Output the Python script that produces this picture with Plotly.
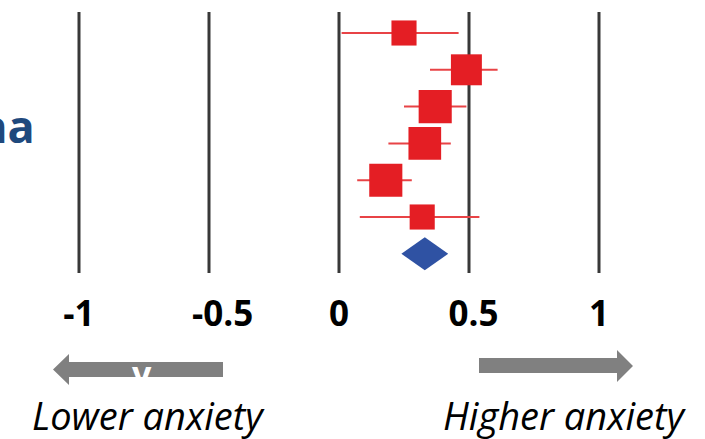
import numpy as np
import plotly.graph_objects as go

# Study-level effect sizes with 95% confidence limits
studies = ["Study 1", "Study 2", "Study 3", "Study 4", "Study 5", "Study 6"]
estimate = [0.25, 0.49, 0.37, 0.33, 0.18, 0.32]
ci_low = [0.01, 0.35, 0.25, 0.19, 0.07, 0.08]
ci_high = [0.46, 0.61, 0.49, 0.43, 0.28, 0.54]
weight = [11.5, 17.5, 20.0, 19.5, 20.0, 11.5]

# Pooled estimate
pooled_est = 0.33
pooled_low = 0.24
pooled_high = 0.42

tick_values = [-1, -0.5, 0, 0.5, 1]
tick_labels = ["-1", "\u00a0\u00a0\u00a0-0.5", "0", "\u00a00.5", "1"]

W, H = 705, 439
PLOT_H = 278  # pixel height of the plotting band at the top

FONT = "Open Sans"
RED = "#e41e24"
RED_LINE = "#e84346"
BLUE = "#2f52a3"
GREY = "#808080"

rows = list(range(1, len(studies) + 1))
pooled_row = len(studies) + 1

est = np.array(estimate)
err_plus = np.array(ci_high) - est
err_minus = est - np.array(ci_low)
sizes = 7.4 * np.sqrt(np.array(weight))

fig = go.Figure()

# vertical reference lines
for v in tick_values:
    fig.add_shape(type="line", xref="x", yref="y", x0=v, x1=v, y0=0.43, y1=7.52,
                  line=dict(color="#383838", width=3), layer="below")

fig.add_trace(go.Scatter(
    x=estimate, y=rows, mode="markers",
    marker=dict(symbol="square", size=sizes, color=RED, opacity=1, line=dict(width=0)),
    error_x=dict(type="data", symmetric=False, array=err_plus, arrayminus=err_minus,
                 color=RED_LINE, thickness=2, width=0),
    hovertext=studies, showlegend=False,
))

# pooled diamond
dh = 0.45
fig.add_trace(go.Scatter(
    x=[pooled_low, pooled_est, pooled_high, pooled_est, pooled_low],
    y=[pooled_row, pooled_row - dh, pooled_row, pooled_row + dh, pooled_row],
    mode="lines", fill="toself", fillcolor=BLUE, line=dict(color=BLUE, width=0),
    showlegend=False,
))

# direction arrows (paper coordinates = figure fractions, margins are zero)
def px(x):
    return x / W

def py(y):
    return 1 - y / H

def arrow_path(points):
    return "M " + " L ".join(f"{px(a):.5f},{py(b):.5f}" for a, b in points) + " Z"

left_arrow = [(53, 369.5), (69, 354), (69, 362), (223, 362), (223, 377), (69, 377), (69, 385)]
right_arrow = [(633, 366), (617, 350), (617, 358), (479, 358), (479, 373), (617, 373), (617, 382)]
for pts in (left_arrow, right_arrow):
    fig.add_shape(type="path", xref="paper", yref="paper", path=arrow_path(pts),
                  fillcolor=GREY, line=dict(width=0))

annotations = [
    dict(text="<b>na</b>", x=px(37), y=py(126), xanchor="right", yanchor="middle",
         font=dict(family=FONT, size=45, color="#1f497d")),
    dict(text="<b>v</b>", x=px(142), y=py(373), xanchor="center", yanchor="middle",
         font=dict(family=FONT, size=34, color="white")),
    dict(text="<i>Lower anxiety</i>", x=px(148), y=py(415), xanchor="center", yanchor="middle",
         font=dict(family=FONT, size=38, color="black")),
    dict(text="<i>Higher anxiety</i>", x=px(565), y=py(415), xanchor="center", yanchor="middle",
         font=dict(family=FONT, size=38, color="black")),
]
for a in annotations:
    fig.add_annotation(xref="paper", yref="paper", showarrow=False, **a)

x_lo = -339 / 260
x_hi = (W - 339) / 260
y_top = 1 - 33 / 36.8
y_bot = 1 + (PLOT_H - 33) / 36.8

fig.update_layout(
    width=W, height=H,
    margin=dict(l=0, r=0, t=0, b=0),
    paper_bgcolor="white", plot_bgcolor="white",
    xaxis=dict(range=[x_lo, x_hi], tickvals=tick_values, ticktext=tick_labels,
               showgrid=False, zeroline=False, showline=False, ticks="",
               tickfont=dict(family=FONT, size=35, color="black", weight="bold"),
               ticklabelstandoff=12),
    yaxis=dict(range=[y_bot, y_top], domain=[1 - PLOT_H / H, 1], visible=False,
               showgrid=False, zeroline=False),
)

fig.write_html("out.html")
